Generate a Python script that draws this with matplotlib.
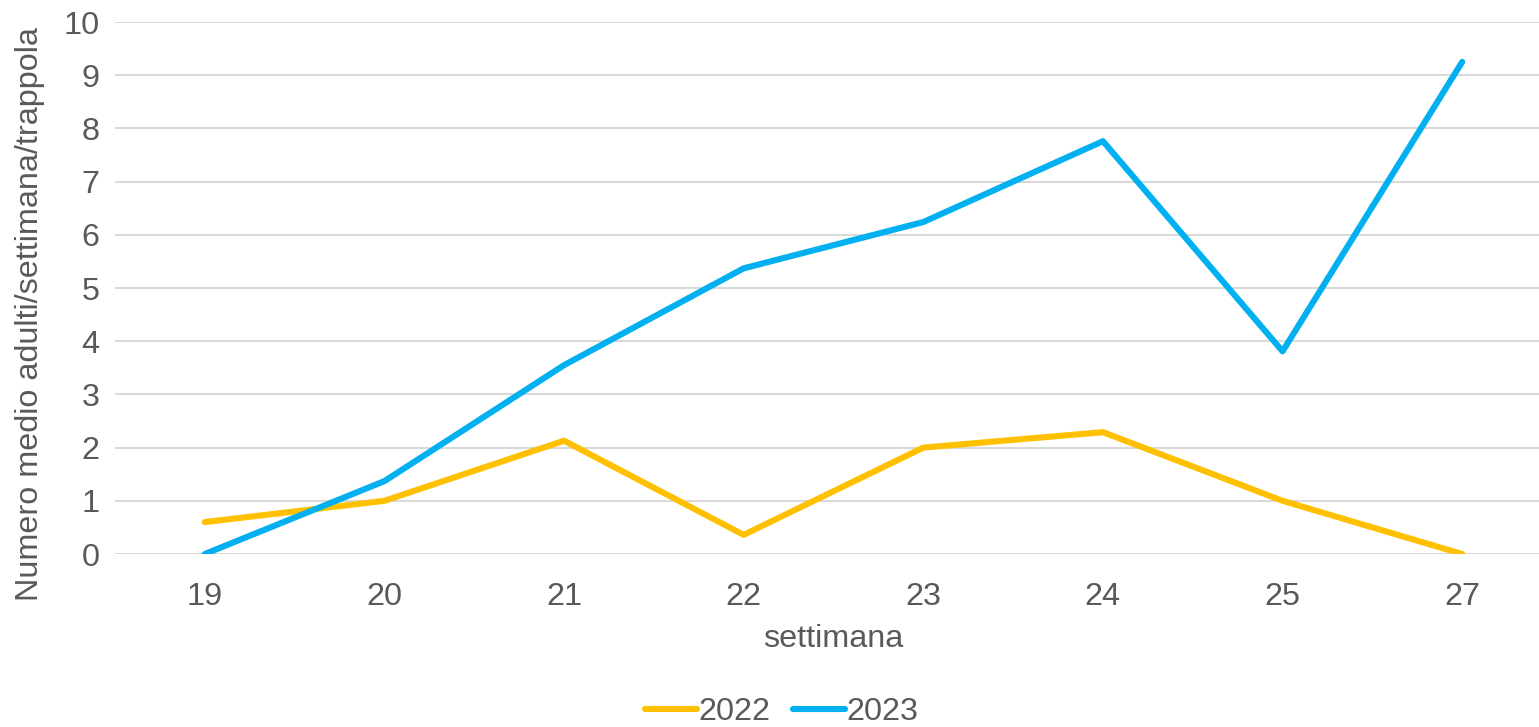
import matplotlib
matplotlib.use("Agg")
import matplotlib.pyplot as plt

weeks = ["19", "20", "21", "22", "23", "24", "25", "27"]
y2022 = [0.6, 1.0, 2.13, 0.36, 2.0, 2.29, 1.0, 0.0]
y2023 = [0.0, 1.37, 3.55, 5.37, 6.24, 7.76, 3.81, 9.25]
yticks = list(range(0, 11))

plt.rcParams['font.family'] = ['Liberation Sans', 'DejaVu Sans']
txt = '#595959'
fs = 23.3

fig = plt.figure(figsize=(15.39, 7.27), dpi=100)
ax = fig.add_axes([115/1539, 1-554/727, 1437/1539, 532/727])

x = list(range(len(weeks)))
ax.plot(x, y2022, color='#FFC000', lw=4.4, solid_capstyle='round', solid_joinstyle='round', label='2022', zorder=3)
ax.plot(x, y2023, color='#00B0F0', lw=4.4, solid_capstyle='round', solid_joinstyle='round', label='2023', zorder=3)

ax.set_xlim(-0.5, len(weeks) - 0.5)
ax.set_ylim(0, 10)
ax.set_yticks(yticks)
ax.set_xticks(x)
ax.set_xticklabels(weeks)
ax.grid(axis='y', color='#d9d9d9', lw=1.5)
ax.set_axisbelow(True)
for s in ax.spines.values():
    s.set_visible(False)
ax.tick_params(length=0, labelsize=fs, colors=txt)
ax.tick_params(axis='y', pad=11)
ax.tick_params(axis='x', pad=20)
ax.set_xlabel('settimana', fontsize=fs, color=txt, labelpad=9)
fig.text(30/1539, 1-314/727, 'Numero medio adulti/settimana/trappola', rotation=90,
         fontsize=fs, color=txt, ha='center', va='center')

leg = fig.legend(loc='center', bbox_to_anchor=(782/1539, 1-712/727), ncol=2, frameon=False,
                 fontsize=fs, handlelength=1.6, handletextpad=0.05, columnspacing=0.7)
for t in leg.get_texts():
    t.set_color(txt)

fig.savefig('out.png', dpi=100)
